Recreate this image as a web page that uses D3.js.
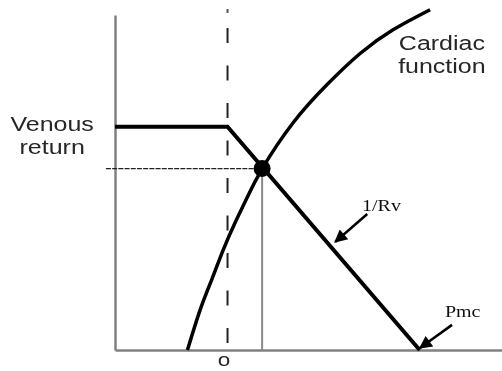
<!DOCTYPE html>
<html>
<head>
<meta charset="utf-8">
<script src="https://cdn.jsdelivr.net/npm/d3@7"></script>
<style>
  html, body { margin: 0; padding: 0; background: #fff; }
  svg { display: block; }
  .label { font-family: "Liberation Sans", Arial, sans-serif; font-size: 20px; fill: #262626; }
  .tick-label { font-family: "Liberation Sans", Arial, sans-serif; font-size: 18px; fill: #262626; }
  .serif { font-family: "Liberation Serif", "Times New Roman", serif; font-size: 16px; fill: #111; }
</style>
</head>
<body>
<div id="chart"></div>
<script>
const width = 502
const height = 371

// curves, in (right atrial pressure, cardiac output) units
const venousReturn = [[-4.1, 8], [0, 8], [7, 0]]
const cardiacFunction = [
  [-1.46, 0], [-1.0, 1.43], [-0.56, 2.56], [-0.16, 3.58], [0.27, 4.55], [0.71, 5.45],
  [1.26, 6.49], [2.39, 8.14], [3.62, 9.5], [4.83, 10.62], [6.03, 11.47], [7.38, 12.19]
]
const equilibrium = [1.26, 6.5]
const xTicks = [0]
const xTickLabels = ['o']

// labels and arrows
const curveLabels = [
  { lines: ['Venous', 'return'], at: [-6.39, 7.85] },
  { lines: ['Cardiac', 'function'], at: [7.81, 10.75] }
]
const arrows = [
  { label: '1/Rv', text: [4.9, 4.98], from: [5.09, 4.87], to: [3.92, 3.87] },
  { label: 'Pmc', text: [7.92, 1.18], from: [8.18, 0.9], to: [7.01, 0.07] }
]

const svg = d3.select('#chart')
  .append('svg')
  .attr('width', width)
  .attr('height', height)

const defs = svg.append('defs')
defs.append('filter')
  .attr('id', 'soft')
  .append('feGaussianBlur')
    .attr('stdDeviation', 0.45)
defs.append('marker')
  .attr('id', 'head')
  .attr('viewBox', '0 0 10 10')
  .attr('markerUnits', 'userSpaceOnUse')
  .attr('markerWidth', 15)
  .attr('markerHeight', 13)
  .attr('refX', 9)
  .attr('refY', 5)
  .attr('orient', 'auto')
  .append('path')
    .attr('d', 'M0,0L10,5L0,10Z')
    .attr('fill', '#000')

const g = svg.append('g').attr('filter', 'url(#soft)')

const x = d3.scaleLinear().domain([-4.1, 10]).range([115, 502])
const y = d3.scaleLinear().domain([0, 12]).range([350, 15])

// axes
const xAxis = g.append('g')
  .attr('transform', `translate(0,${y(0)})`)
  .call(d3.axisBottom(x).tickValues(xTicks).tickFormat((d, i) => xTickLabels[i]).tickSize(0))
xAxis.select('.domain').attr('stroke', '#808080').attr('stroke-width', 2.5)
xAxis.selectAll('.tick text')
  .attr('class', 'tick-label')
  .attr('y', 16).attr('dy', 0)
  .attr('transform', 'translate(-4,0) scale(1.25,1)')

const yAxis = g.append('g')
  .attr('transform', `translate(${x.range()[0]},0)`)
  .call(d3.axisLeft(y).tickValues([]).tickSizeOuter(0))
yAxis.select('.domain').attr('stroke', '#808080').attr('stroke-width', 2.5)

// zero pressure line
g.append('line')
  .attr('x1', x(0)).attr('x2', x(0))
  .attr('y1', 28).attr('y2', y(0))
  .attr('stroke', '#222').attr('stroke-width', 2)
  .attr('stroke-dasharray', '15,22.5')
g.append('line')
  .attr('x1', x(0)).attr('x2', x(0))
  .attr('y1', 9).attr('y2', 13)
  .attr('stroke', '#555').attr('stroke-width', 2)

// equilibrium guides
g.append('line')
  .attr('x1', x(-4.43)).attr('x2', x(equilibrium[0]))
  .attr('y1', y(equilibrium[1])).attr('y2', y(equilibrium[1]))
  .attr('stroke', '#222').attr('stroke-width', 1.3)
  .attr('stroke-dasharray', '5,1.2')
g.append('line')
  .attr('x1', x(equilibrium[0])).attr('x2', x(equilibrium[0]))
  .attr('y1', y(equilibrium[1])).attr('y2', y(0))
  .attr('stroke', '#8a8a8a').attr('stroke-width', 2)

// curves
const line = d3.line().x(d => x(d[0])).y(d => y(d[1]))
g.append('path')
  .attr('d', line.curve(d3.curveLinear)(venousReturn))
  .attr('fill', 'none').attr('stroke', '#000').attr('stroke-width', 4)
g.append('path')
  .attr('d', line.curve(d3.curveNatural)(cardiacFunction))
  .attr('fill', 'none').attr('stroke', '#000').attr('stroke-width', 3.5)

g.append('circle')
  .attr('cx', x(equilibrium[0])).attr('cy', y(equilibrium[1]))
  .attr('r', 8.5).attr('fill', '#000')

// labels
curveLabels.forEach(c => {
  const t = g.append('text')
    .attr('class', 'label')
    .attr('text-anchor', 'middle')
    .attr('transform', `translate(${x(c.at[0])},${y(c.at[1])}) scale(1.25,1)`)
  c.lines.forEach((s, i) => t.append('tspan').attr('x', 0).attr('dy', i ? 23 : 0).text(s))
})

arrows.forEach(a => {
  g.append('line')
    .attr('x1', x(a.from[0])).attr('y1', y(a.from[1]))
    .attr('x2', x(a.to[0])).attr('y2', y(a.to[1]))
    .attr('stroke', '#000').attr('stroke-width', 2.5)
    .attr('marker-end', 'url(#head)')
  g.append('text')
    .attr('class', 'serif')
    .attr('transform', `translate(${x(a.text[0])},${y(a.text[1])}) scale(1.25,1)`)
    .text(a.label)
})
</script>
</body>
</html>
